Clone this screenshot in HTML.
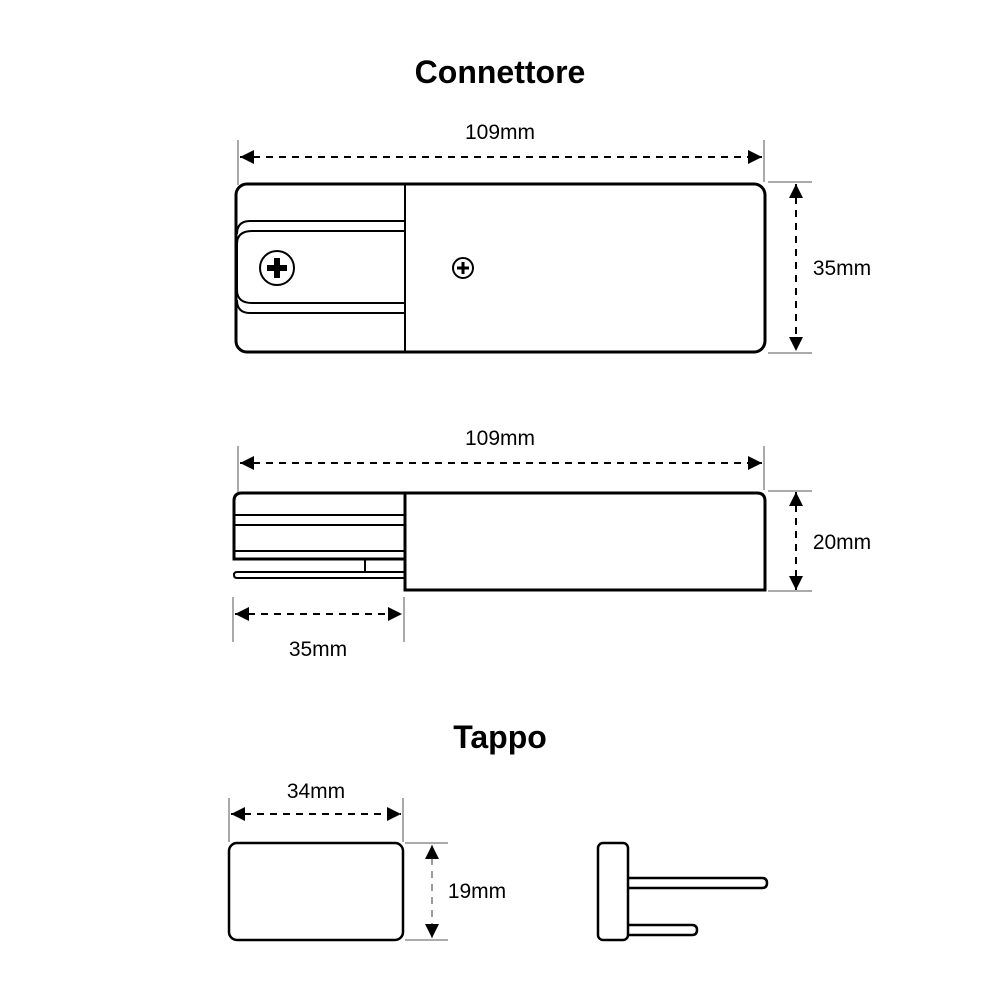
<!DOCTYPE html>
<html><head><meta charset="utf-8"><style>
html,body{margin:0;padding:0;background:#fff;}
svg{display:block;}
text{font-family:"Liberation Sans",Arial,sans-serif;fill:#000;}
</style></head><body>
<svg width="1000" height="1000" viewBox="0 0 1000 1000" xmlns="http://www.w3.org/2000/svg">
<defs>
<marker id="a" viewBox="0 0 10 10" refX="10" refY="5" markerWidth="14" markerHeight="14" markerUnits="userSpaceOnUse" orient="auto-start-reverse"><path d="M0,0 L10,5 L0,10 z" fill="#000"/></marker>
</defs>
<text x="500" y="83" font-size="32" font-weight="bold" text-anchor="middle">Connettore</text>
<text x="500" y="139" font-size="21" text-anchor="middle">109mm</text>
<g stroke="#555" stroke-width="1">
<line x1="238" y1="140" x2="238" y2="185"/><line x1="764" y1="140" x2="764" y2="182"/>
<line x1="768" y1="182" x2="812" y2="182"/><line x1="768" y1="353" x2="812" y2="353"/>
</g>
<g stroke="#000" stroke-width="2" stroke-dasharray="7,6" fill="none">
<line x1="240" y1="157" x2="762" y2="157" marker-start="url(#a)" marker-end="url(#a)"/>
<line x1="796" y1="184" x2="796" y2="351" marker-start="url(#a)" marker-end="url(#a)"/>
</g>
<text x="842" y="275" font-size="21" text-anchor="middle">35mm</text>
<g stroke="#000" fill="none">
<rect x="236" y="184" width="529" height="168" rx="11" stroke-width="3"/>
<line x1="405" y1="184" x2="405" y2="352" stroke-width="2"/>
<path d="M405,221 H250 Q237,221 237,234" stroke-width="2"/>
<path d="M405,231 H252 Q237,231 237,244 V290 Q237,303 252,303 H405" stroke-width="2"/>
<path d="M405,313 H250 Q237,313 237,300" stroke-width="2"/>
<circle cx="277" cy="268" r="17" stroke-width="2"/>
<circle cx="463" cy="268" r="10" stroke-width="2"/>
</g>
<path d="M274,258h6v7h7v6h-7v7h-6v-7h-7v-6h7z" fill="#000"/>
<path d="M461.5,262h3v4.5h4.5v3h-4.5v4.5h-3v-4.5h-4.5v-3h4.5z" fill="#000"/>
<text x="500" y="445" font-size="21" text-anchor="middle">109mm</text>
<g stroke="#555" stroke-width="1">
<line x1="238" y1="446" x2="238" y2="492"/><line x1="764" y1="446" x2="764" y2="490"/>
<line x1="768" y1="491" x2="812" y2="491"/><line x1="768" y1="591" x2="812" y2="591"/>
<line x1="233" y1="597" x2="233" y2="642"/><line x1="404" y1="597" x2="404" y2="642"/>
</g>
<g stroke="#000" stroke-width="2" stroke-dasharray="7,6" fill="none">
<line x1="240" y1="463" x2="762" y2="463" marker-start="url(#a)" marker-end="url(#a)"/>
<line x1="796" y1="492" x2="796" y2="590" marker-start="url(#a)" marker-end="url(#a)"/>
<line x1="235" y1="614" x2="402" y2="614" marker-start="url(#a)" marker-end="url(#a)"/>
</g>
<text x="842" y="549" font-size="21" text-anchor="middle">20mm</text>
<text x="318" y="656" font-size="21" text-anchor="middle">35mm</text>
<g stroke="#000" fill="none">
<path d="M405,493 H242 Q234,493 234,501 V559 H405" stroke-width="3"/>
<line x1="235" y1="515" x2="405" y2="515" stroke-width="2"/>
<line x1="235" y1="525" x2="405" y2="525" stroke-width="2"/>
<line x1="235" y1="551" x2="405" y2="551" stroke-width="2"/>
<line x1="365" y1="559" x2="365" y2="572" stroke-width="2"/>
<path d="M405,572 H237 Q234,572 234,575 Q234,578 237,578 H405" stroke-width="2"/>
<path d="M405,493 H757 Q765,493 765,501 V590 H405 Z" stroke-width="3"/>
</g>
<text x="500" y="748" font-size="32" font-weight="bold" text-anchor="middle">Tappo</text>
<text x="316" y="798" font-size="21" text-anchor="middle">34mm</text>
<g stroke="#555" stroke-width="1">
<line x1="229" y1="798" x2="229" y2="842"/><line x1="403" y1="798" x2="403" y2="842"/>
<line x1="405" y1="843" x2="448" y2="843"/><line x1="405" y1="940" x2="448" y2="940"/>
</g>
<g stroke="#000" stroke-width="2" stroke-dasharray="7,6" fill="none">
<line x1="231" y1="814" x2="401" y2="814" marker-start="url(#a)" marker-end="url(#a)"/>
</g>
<g stroke="#666" stroke-width="1.3" stroke-dasharray="7,6" fill="none">
<line x1="432" y1="845" x2="432" y2="938" marker-start="url(#a)" marker-end="url(#a)"/>
</g>
<text x="477" y="898" font-size="21" text-anchor="middle">19mm</text>
<g stroke="#000" fill="none" stroke-width="2.5">
<rect x="229" y="843" width="174" height="97" rx="8"/>
<rect x="598" y="843" width="30" height="97" rx="5"/>
<path d="M628,878 H762 Q767,878 767,883 Q767,888 762,888 H628"/>
<path d="M628,925 H692 Q697,925 697,930 Q697,935 692,935 H628"/>
</g>
</svg>
</body></html>
